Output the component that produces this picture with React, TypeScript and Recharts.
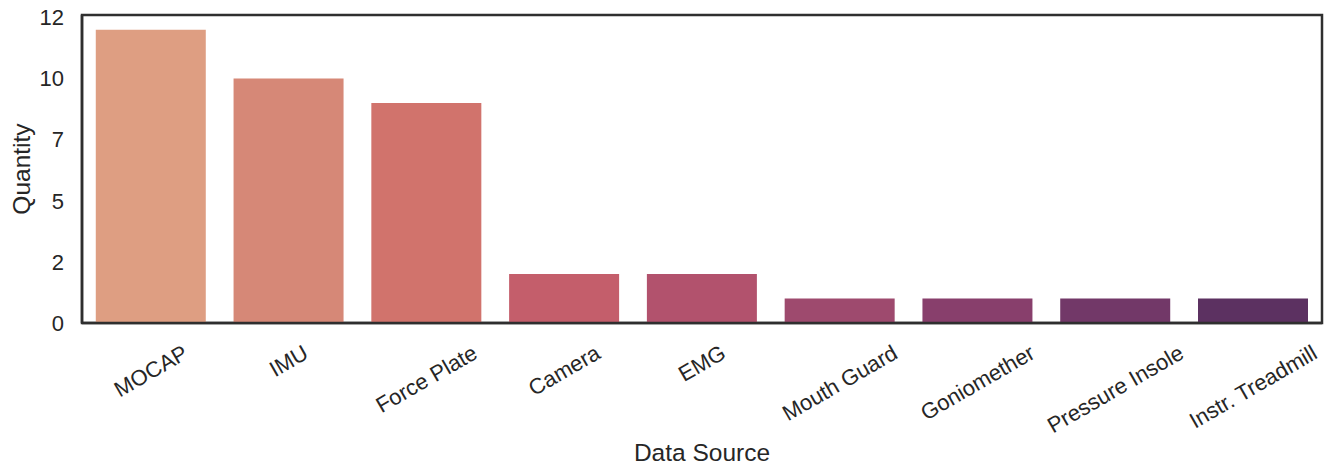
import { BarChart, Bar, XAxis, YAxis, Cell, ReferenceArea } from "recharts";

const categories = [
  "MOCAP",
  "IMU",
  "Force Plate",
  "Camera",
  "EMG",
  "Mouth Guard",
  "Goniomether",
  "Pressure Insole",
  "Instr. Treadmill",
];
const quantities = [12, 10, 9, 2, 2, 1, 1, 1, 1];
const yTicks = [0, 2.5, 5, 7.5, 10, 12.5];
const yMax = 12.6;

const COLORS = [
  "#DE9E82",
  "#D68877",
  "#D1736C",
  "#C45E6B",
  "#B2526D",
  "#9E4A6E",
  "#883F6C",
  "#723868",
  "#5C3161",
];

const FONT = "'Liberation Sans', Arial, sans-serif";
const INK = "#262626";
const FRAME = "#2f2f2f";
const TICK_SIZE = 22;
const LABEL_SIZE = 24.5;

const data = categories.map((name, i) => ({ name, value: quantities[i] }));

let ctx: CanvasRenderingContext2D | null = null;
function textWidth(s: string) {
  if (!ctx) ctx = document.createElement("canvas").getContext("2d");
  if (!ctx) return s.length * TICK_SIZE * 0.55;
  ctx.font = `${TICK_SIZE}px ${FONT}`;
  return ctx.measureText(s).width;
}

// rotated 30deg, centred under the tick like matplotlib's default
function RotatedTick(props: any) {
  const { x, y, payload } = props;
  const w = textWidth(payload.value);
  const h = 25;
  const H = w * 0.5 + h * 0.866;
  const cy = y + 15 + H / 2;
  return (
    <text
      x={x}
      y={cy}
      textAnchor="middle"
      dominantBaseline="central"
      transform={`rotate(-30 ${x} ${cy})`}
      fontSize={TICK_SIZE}
      fill={INK}
      fontFamily={FONT}
    >
      {payload.value}
    </text>
  );
}

function YLabel(props: any) {
  const vb = props.viewBox;
  const cx = 21;
  const cy = vb.y + vb.height / 2;
  return (
    <text
      x={cx}
      y={cy}
      textAnchor="middle"
      dominantBaseline="central"
      transform={`rotate(-90 ${cx} ${cy})`}
      fontSize={LABEL_SIZE}
      fill={INK}
      fontFamily={FONT}
    >
      Quantity
    </text>
  );
}

function XLabel(props: any) {
  const vb = props.viewBox;
  return (
    <text
      x={vb.x + vb.width / 2}
      y={461}
      textAnchor="middle"
      fontSize={LABEL_SIZE}
      fill={INK}
      fontFamily={FONT}
    >
      Data Source
    </text>
  );
}

export default function App() {
  const axisLine = { stroke: FRAME, strokeWidth: 2.5 };
  return (
    <div style={{ position: "absolute", left: 0, top: 0, background: "#fff" }}>
      <BarChart
        width={1332}
        height={476}
        data={data}
        margin={{ top: 15, right: 10, left: 0, bottom: 0 }}
        barCategoryGap="10%"
        style={{ fontFamily: FONT }}
      >
        <XAxis
          dataKey="name"
          interval={0}
          height={153}
          tickLine={false}
          tickSize={0}
          axisLine={axisLine}
          tick={<RotatedTick />}
          label={<XLabel />}
        />
        <YAxis
          width={82}
          domain={[0, yMax]}
          ticks={yTicks}
          tickFormatter={(v: number) => String(Math.floor(v))}
          tickLine={false}
          tickSize={0}
          tickMargin={18}
          axisLine={axisLine}
          tick={{ fontSize: TICK_SIZE, fill: INK }}
          label={<YLabel />}
        />
        <Bar dataKey="value" isAnimationActive={false}>
          {data.map((d, i) => (
            <Cell key={d.name} fill={COLORS[i % COLORS.length]} />
          ))}
        </Bar>
        <ReferenceArea
          x1={categories[0]}
          x2={categories[categories.length - 1]}
          y1={0}
          y2={yMax}
          fill="none"
          fillOpacity={0}
          stroke={FRAME}
          strokeWidth={2.5}
          strokeOpacity={1}
          ifOverflow="visible"
        />
      </BarChart>
    </div>
  );
}
